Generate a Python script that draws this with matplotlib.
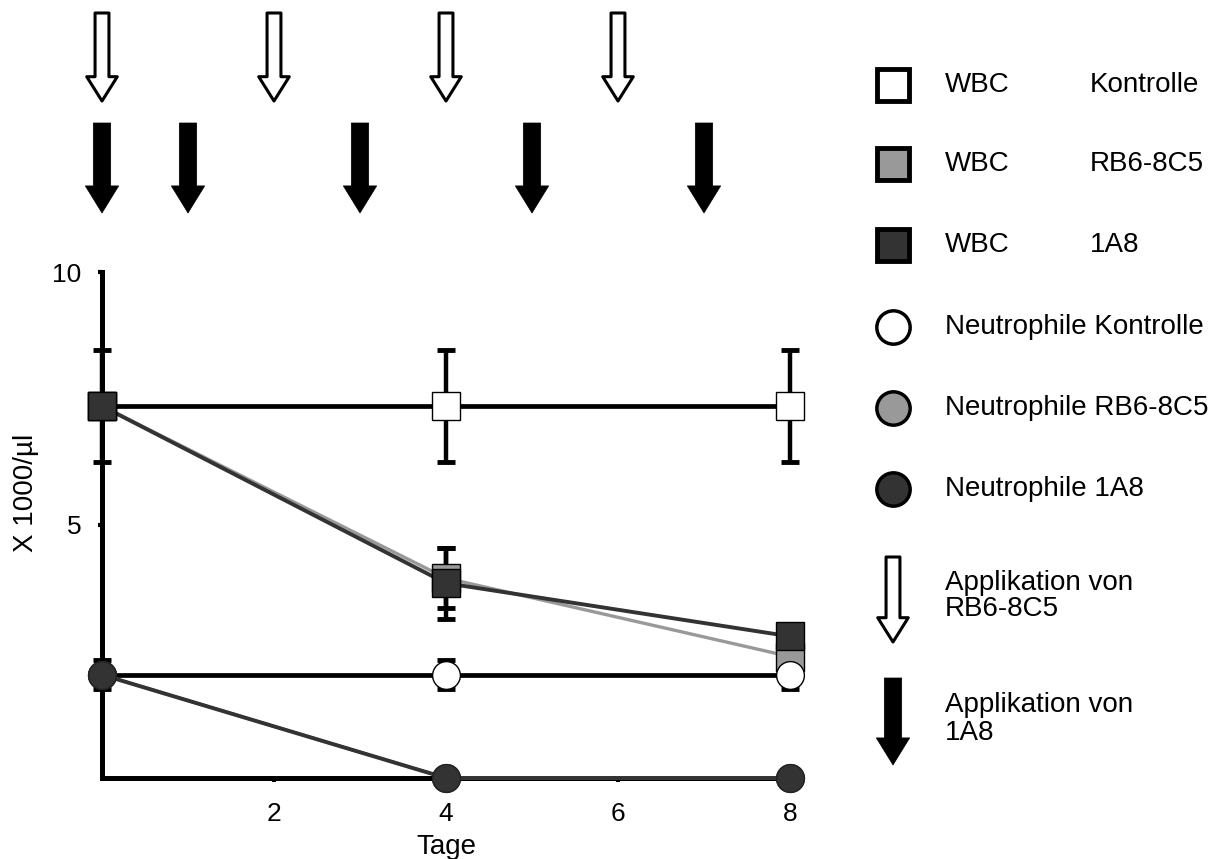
import matplotlib
matplotlib.use("Agg")
import matplotlib.pyplot as plt
import matplotlib.transforms as mtransforms
from matplotlib.lines import Line2D
from matplotlib.patches import FancyArrowPatch

plt.rcParams["font.family"] = ["Liberation Sans", "DejaVu Sans"]

# --- data ---
days = [0, 4, 8]
wbc_kontrolle = [7.35, 7.35, 7.35]
wbc_kontrolle_err = [1.1, 1.1, 1.1]
wbc_rb6 = [7.35, 3.95, 2.4]
wbc_rb6_err = [0.0, 0.6, 0.0]
wbc_1a8 = [7.35, 3.85, 2.8]
wbc_1a8_err = [0.0, 0.7, 0.1]
neu_kontrolle = [2.04, 2.04, 2.04]
neu_kontrolle_err = [0.29, 0.29, 0.29]
neu_rb6 = [2.04, 0.0, 0.0]
neu_1a8 = [2.04, 0.0, 0.0]

rb6_days = [0, 2, 4, 6]        # Applikation von RB6-8C5
a1a8_days = [0, 1, 3, 5, 7]    # Applikation von 1A8

xticks = [2, 4, 6, 8]
yticks = [5, 10]

DARK = "#333333"
GRAY = "#999999"

fig = plt.figure(figsize=(12.26, 8.59), dpi=100)
W, H = 1226, 859
ax = fig.add_axes([102 / W, 1 - 778 / H, (790 - 102) / W, (778 - 272) / H])
ax.set_xlim(0, 8)
ax.set_ylim(0, 10)


def series(y, err, line_color, lw, face, marker, edge="black"):
    if err is not None:
        ax.errorbar(days, y, yerr=err, fmt="none", ecolor="black", elinewidth=3.2,
                    capsize=6.5, capthick=3.5, clip_on=False, zorder=2)
    ax.plot(days, y, color=line_color, lw=lw, clip_on=False, zorder=3)
    ax.plot(days, y, ls="none", marker=marker, ms=20, mfc=face, mec=edge, mew=1,
            clip_on=False, zorder=4)


series(wbc_kontrolle, wbc_kontrolle_err, "black", 3.4, "white", "s")
series(wbc_rb6, wbc_rb6_err, GRAY, 2.4, GRAY, "s")
series(wbc_1a8, wbc_1a8_err, DARK, 2.8, DARK, "s")
series(neu_kontrolle, neu_kontrolle_err, "black", 3.4, "white", "o")
series(neu_rb6, None, GRAY, 2.4, GRAY, "o", edge=DARK)
series(neu_1a8, None, DARK, 2.8, DARK, "o", edge="#222222")

for side in ["top", "right"]:
    ax.spines[side].set_visible(False)
for side in ["left", "bottom"]:
    ax.spines[side].set_linewidth(3.6)

ax.set_xticks(xticks)
ax.set_yticks(yticks)
ax.tick_params(axis="both", length=3, width=3, labelsize=19)
ax.tick_params(axis="x", pad=14)
ax.tick_params(axis="y", pad=12)
ax.set_xlabel("Tage", fontsize=20, labelpad=6)
ax.set_ylabel("X 1000/µl", fontsize=20)
ax.yaxis.set_label_coords(-0.091, 0.563)

# application arrows above the plot
blend = mtransforms.blended_transform_factory(ax.transData, fig.transFigure)


def arrow(x, y0, y1, filled, transform, add):
    if filled:
        style = "simple,head_length=1.95,head_width=2.4,tail_width=1.25"
        p = FancyArrowPatch((x, y0), (x, y1), arrowstyle=style, mutation_scale=10,
                            fc="black", ec="black", lw=0.5, transform=transform,
                            shrinkA=0, shrinkB=0, clip_on=False)
    else:
        style = "simple,head_length=1.75,head_width=2.2,tail_width=1.0"
        p = FancyArrowPatch((x, y0), (x, y1), arrowstyle=style, mutation_scale=10,
                            fc="white", ec="black", lw=2.2, transform=transform,
                            shrinkA=0, shrinkB=0, clip_on=False)
    add(p)


for d in rb6_days:
    arrow(d, 1 - 13 / H, 1 - 101 / H, False, blend, ax.add_patch)
for d in a1a8_days:
    arrow(d, 1 - 123 / H, 1 - 213 / H, True, blend, ax.add_patch)

# legend drawn by hand
lx = 893 / W
tx1 = 945 / W
tx2 = 1090 / W
rows = [
    ("s", "white", "WBC", "Kontrolle", 85),
    ("s", GRAY, "WBC", "RB6-8C5", 164),
    ("s", DARK, "WBC", "1A8", 245),
    ("o", "white", "Neutrophile Kontrolle", None, 327),
    ("o", GRAY, "Neutrophile RB6-8C5", None, 408),
    ("o", DARK, "Neutrophile 1A8", None, 489),
]
for marker, face, t1, t2, ypx in rows:
    yy = 1 - ypx / H
    if marker == "s":
        fig.add_artist(Line2D([lx], [yy], transform=fig.transFigure, marker="s",
                              ms=23, mfc=face, mec="black", mew=3.5))
    else:
        fig.add_artist(Line2D([lx], [yy], transform=fig.transFigure, marker="o",
                              ms=24, mfc=face, mec="black", mew=2.5))
    fig.text(tx1, yy, t1, fontsize=20, va="center", ha="left")
    if t2:
        fig.text(tx2, yy, t2, fontsize=20, va="center", ha="left")

arrow(lx, 1 - 557 / H, 1 - 642 / H, False, fig.transFigure, fig.add_artist)
arrow(lx, 1 - 678 / H, 1 - 765 / H, True, fig.transFigure, fig.add_artist)
fig.text(tx1, 1 - 596 / H, "Applikation von\nRB6-8C5", fontsize=20, va="center",
         ha="left", linespacing=1.05)
fig.text(tx1, 1 - 719 / H, "Applikation von\n1A8", fontsize=20, va="center",
         ha="left", linespacing=1.05)

fig.savefig("out.png", dpi=100)
